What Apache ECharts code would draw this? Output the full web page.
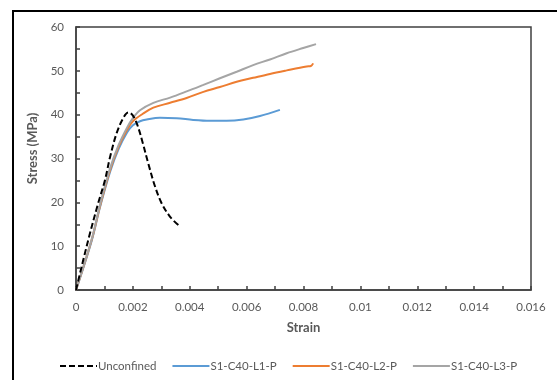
<!DOCTYPE html>
<html>
<head>
<meta charset="utf-8">
<script src="https://cdn.jsdelivr.net/npm/echarts@6/dist/echarts.min.js"></script>
<style>
  html, body { margin: 0; padding: 0; background: #fff; }
  #chart { width: 557px; height: 380px; }
</style>
</head>
<body>
<div id="chart"></div>
<script>
// Stress-strain curves: unconfined concrete vs. three confinement levels
const seriesNames = ['Unconfined', 'S1-C40-L1-P', 'S1-C40-L2-P', 'S1-C40-L3-P'];

const unconfinedStrain = [0, 0.00043, 0.00078, 0.00102, 0.0012, 0.00143, 0.00166, 0.00184, 0.00199, 0.00216, 0.00235, 0.00254, 0.00278, 0.00301, 0.00331, 0.0036];
const unconfinedStress = [0, 11.4, 19.8, 25.1, 30.4, 35.8, 39.2, 40.5, 39.9, 37.6, 33.5, 28.9, 23.6, 19.8, 16.7, 14.8];

const l1Strain = [0, 0.00055, 0.00084, 0.0012, 0.0015, 0.0018, 0.002, 0.00225, 0.00249, 0.00295, 0.00354, 0.00412, 0.00471, 0.0053, 0.00588, 0.00647, 0.00717];
const l1Stress = [0, 11.2, 18.8, 27.0, 32.2, 36.0, 37.6, 38.5, 38.9, 39.3, 39.2, 38.8, 38.6, 38.6, 38.9, 39.7, 41.1];

const l2Strain = [0, 0.00055, 0.00084, 0.0012, 0.0015, 0.0018, 0.002, 0.00235, 0.00272, 0.00331, 0.00389, 0.00448, 0.00506, 0.00565, 0.00623, 0.00682, 0.00741, 0.00811, 0.00826, 0.00834];
const l2Stress = [0, 11.4, 19.0, 27.4, 32.7, 36.6, 38.5, 40.2, 41.6, 42.7, 43.8, 45.2, 46.3, 47.5, 48.4, 49.3, 50.1, 51.0, 51.1, 51.7];

const l3Strain = [0, 0.00055, 0.00084, 0.0012, 0.0015, 0.0018, 0.002, 0.00225, 0.00272, 0.00331, 0.00389, 0.00448, 0.00506, 0.00565, 0.00623, 0.00682, 0.00741, 0.00799, 0.00844];
const l3Stress = [0, 11.5, 19.3, 27.8, 33.1, 37.1, 39.2, 41.0, 42.7, 43.9, 45.3, 46.8, 48.3, 49.8, 51.3, 52.6, 54.0, 55.2, 56.1];

const xTicks = [0, 0.002, 0.004, 0.006, 0.008, 0.01, 0.012, 0.014, 0.016];
const yTicks = [0, 10, 20, 30, 40, 50, 60];

function pairs(xs, ys) { return xs.map((x, i) => [x, ys[i]]); }

const FONT = 'Lato';
const TEXT_GREY = '#595959';

const chart = echarts.init(document.getElementById('chart'), null, { renderer: 'canvas' });

function curve(name, xs, ys, color, type) {
  return {
    name: name,
    type: 'line',
    data: pairs(xs, ys),
    showSymbol: false,
    symbol: 'none',
    smooth: 0.35,
    lineStyle: { color: color, width: 2, type: type || 'solid' },
    itemStyle: { color: color },
    z: type ? 5 : 3
  };
}

chart.setOption({
  animation: false,
  backgroundColor: '#fff',
  graphic: [{
    type: 'rect',
    shape: { x: 13, y: 11, width: 620, height: 420 },
    style: { fill: 'none', stroke: '#000', lineWidth: 2 },
    silent: true
  }],
  grid: {
    left: 76, right: 26, top: 27, bottom: 90,
    show: true, borderColor: '#404040', borderWidth: 1.5, backgroundColor: 'transparent'
  },
  xAxis: {
    type: 'value',
    min: xTicks[0], max: xTicks[xTicks.length - 1], interval: 0.002,
    name: 'Strain', nameLocation: 'middle', nameGap: 31,
    nameTextStyle: { fontFamily: FONT, fontSize: 13, fontWeight: 'bold', color: TEXT_GREY },
    axisLine: { show: true, lineStyle: { color: '#404040', width: 1.5 } },
    axisTick: { show: true, inside: true, length: 4, lineStyle: { color: '#404040', width: 1.5 } },
    minorTick: { show: true, splitNumber: 2, length: 4, lineStyle: { color: '#404040', width: 1.5 } },
    splitLine: { show: false },
    axisLabel: {
      margin: 11, fontFamily: FONT, fontSize: 11.5, color: TEXT_GREY,
      formatter: v => String(+v.toFixed(3))
    }
  },
  yAxis: {
    type: 'value',
    min: yTicks[0], max: yTicks[yTicks.length - 1], interval: 10,
    name: 'Stress (MPa)', nameLocation: 'middle', nameGap: 22,
    nameTextStyle: { fontFamily: FONT, fontSize: 13, fontWeight: 'bold', color: TEXT_GREY, padding: [0, 0, 0, 20] },
    axisLine: { show: true, lineStyle: { color: '#404040', width: 1.5 } },
    axisTick: { show: true, inside: true, length: 4, lineStyle: { color: '#404040', width: 1.5 } },
    minorTick: { show: true, splitNumber: 2, length: 4, lineStyle: { color: '#404040', width: 1.5 } },
    splitLine: { show: false },
    axisLabel: { margin: 12, fontFamily: FONT, fontSize: 11.5, color: TEXT_GREY }
  },
  legend: {
    bottom: 3, left: 54,
    itemWidth: 37, itemHeight: 10, itemGap: 15,
    itemStyle: { opacity: 0 },
    textStyle: { fontFamily: FONT, fontSize: 11.5, color: TEXT_GREY, padding: [0, 0, 0, -4] },
    data: seriesNames
  },
  series: [
    curve(seriesNames[1], l1Strain, l1Stress, '#5B9BD5'),
    curve(seriesNames[2], l2Strain, l2Stress, '#ED7D31'),
    curve(seriesNames[3], l3Strain, l3Stress, '#A5A5A5'),
    curve(seriesNames[0], unconfinedStrain, unconfinedStress, '#000000', [6, 3])
  ]
});
</script>
</body>
</html>
